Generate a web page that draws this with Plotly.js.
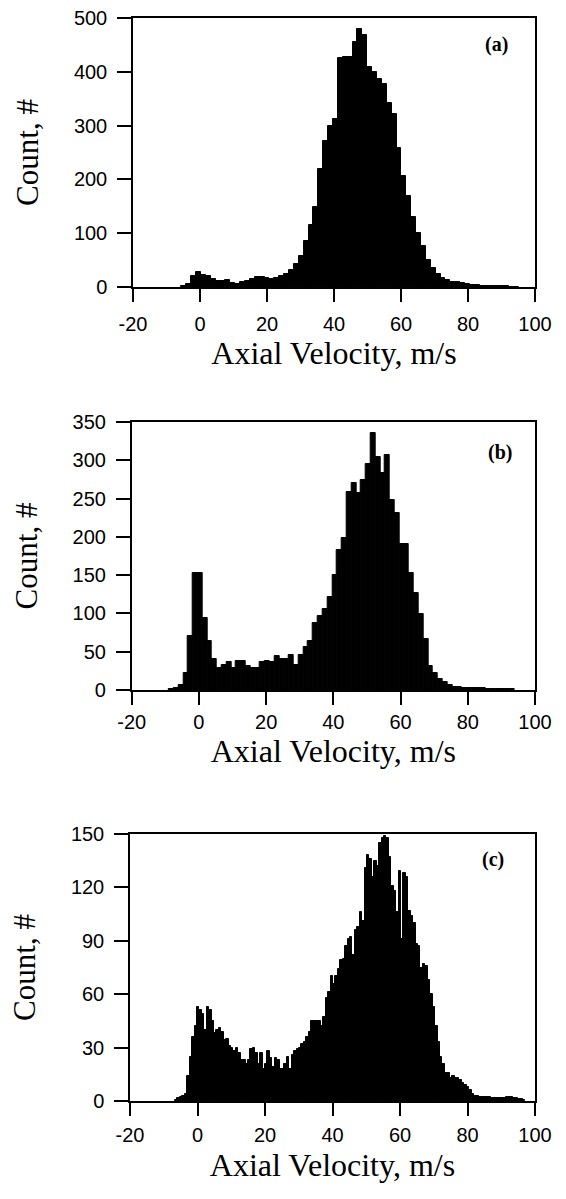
<!DOCTYPE html>
<html>
<head>
<meta charset="utf-8">
<script src="https://cdn.plot.ly/plotly-3.0.1.min.js"></script>
<style>
  html, body { margin: 0; padding: 0; background: #ffffff; }
  #chart { width: 566px; height: 1199px; }
</style>
</head>
<body>
<div id="chart"></div>
<script>
// ---- data ----
const velocityTicks = [-20, 0, 20, 40, 60, 80, 100];

// panel (a): bin centre of first bin and bin width (m/s)
const firstBinA = -4.83;
const binWidthA = 1.46;
const countsA = [1, 5, 20, 28, 23, 21, 14, 11, 11, 13, 8, 6, 10, 12, 15, 18, 18, 16, 15, 17,
  20, 25, 32, 42, 57, 85, 116, 148, 220, 272, 300, 312, 425, 428, 428, 455, 479, 469, 409, 400,
  386, 377, 342, 321, 258, 207, 170, 130, 100, 76, 50, 35, 24, 17, 13, 10, 9, 7, 5, 4,
  3, 2, 2, 1, 1, 1, 1, 0.5, 0.5];

// panel (b)
const firstBinB = -8.24;
const binWidthB = 1.43;
const countsB = [1, 3, 7, 22, 70, 153, 153, 94, 64, 41, 29, 33, 36, 29, 38, 38, 32, 29, 29, 36,
  38, 36, 45, 41, 41, 46, 33, 46, 56, 64, 87, 96, 106, 121, 150, 183, 198, 258, 270, 257,
  274, 295, 335, 304, 283, 307, 248, 231, 191, 191, 153, 127, 99, 66, 31, 22, 15, 11, 7, 4,
  4, 3, 3, 2, 2, 2, 1, 1, 1, 1, 1, 1];

// panel (c)
const firstBinC = -6.29;
const binWidthC = 0.72;
const countsC = [0.5, 1.5, 2.5, 3,
  4, 14, 25, 36, 42, 53, 51, 49, 40, 53, 51, 45, 38, 40, 41, 39, 34, 35, 31, 30,
  28, 30, 27, 23, 23, 21, 23, 29, 30, 27, 21, 27, 18, 21, 28, 24, 19, 24, 23, 18,
  18, 21, 25, 18, 26, 28, 29, 30, 32, 33, 36, 39, 45, 45, 45, 45, 42, 47, 58, 61,
  70, 66, 70, 74, 79, 80, 87, 91, 92,
  82, 96, 98, 106, 101, 131, 138, 136, 126, 135, 132, 145, 148, 149, 148, 137, 121, 118, 106, 129,
  91, 128, 126, 107, 104, 100, 88, 87, 75, 77, 76, 68, 60, 53, 42, 33, 25, 21, 16, 16,
  13, 14, 13, 13, 12, 10, 9, 8, 6, 4,
  3, 3, 2, 2, 2, 2, 2, 1.5, 1.5, 1.5, 1.5, 1.5, 1.5, 2, 2, 2, 1.5, 1.5, 1, 1, 0.5];

const panelLabels = ['(a)', '(b)', '(c)'];
const yTickValsA = [0, 100, 200, 300, 400, 500];
const yTickValsB = [0, 50, 100, 150, 200, 250, 300, 350];
const yTickValsC = [0, 30, 60, 90, 120, 150];
const xTitleText = 'Axial Velocity, m/s';
const yTitleText = 'Count, #';

// ---- figure ----
const W = 566, H = 1199;
const px = v => v / W;
const py = v => 1 - v / H;

function barTrace(counts, x0, dx, xa, ya) {
  return {
    type: 'bar', y: counts, x0: x0, dx: dx, xaxis: xa, yaxis: ya,
    marker: { color: '#000000', line: { color: '#000000', width: 1 } },
    hoverinfo: 'x+y', showlegend: false
  };
}

const data = [
  barTrace(countsA, firstBinA, binWidthA, 'x', 'y'),
  barTrace(countsB, firstBinB, binWidthB, 'x2', 'y2'),
  barTrace(countsC, firstBinC, binWidthC, 'x3', 'y3')
];

const tickFont = { family: 'Liberation Sans, Arial, sans-serif', size: 20, color: '#000000' };
const titleFont = { family: 'Liberation Serif, Times New Roman, serif', size: 32, color: '#000000' };
const yTitleFont = { family: 'Liberation Serif, Times New Roman, serif', size: 31, color: '#000000' };
const labelFont = { family: 'Liberation Serif, Times New Roman, serif', size: 20, color: '#000000' };

function xAxis(domain, anchor, labelStandoff, titleStandoff) {
  return {
    domain: domain, anchor: anchor, range: [-20, 100],
    tickmode: 'array', tickvals: velocityTicks, ticktext: velocityTicks.map(String),
    ticks: 'outside', ticklen: 13, tickwidth: 1.5, tickcolor: '#000000',
    showline: true, linecolor: '#000000', linewidth: 1.5, mirror: true,
    showgrid: false, zeroline: false,
    tickfont: tickFont, ticklabelstandoff: labelStandoff,
    title: { text: xTitleText, font: titleFont, standoff: titleStandoff }
  };
}
function yAxis(domain, anchor, maxV, tickVals) {
  return {
    domain: domain, anchor: anchor, range: [0, maxV],
    tickmode: 'array', tickvals: tickVals, ticktext: tickVals.map(String),
    ticks: 'outside', ticklen: 14, tickwidth: 1.5, tickcolor: '#000000',
    showline: true, linecolor: '#000000', linewidth: 1.5, mirror: true,
    showgrid: false, zeroline: false,
    tickfont: tickFont, ticklabelstandoff: 6,
    title: { text: yTitleText, font: yTitleFont, standoff: 26 }
  };
}

function panelLabel(xr, yr, x, y, txt) {
  return { xref: xr, yref: yr, x: x, y: y, text: '<b>' + txt + '</b>', showarrow: false,
    xanchor: 'center', yanchor: 'middle', font: labelFont };
}

const layout = {
  width: W, height: H,
  margin: { l: 0, r: 0, t: 0, b: 0, pad: 0 },
  paper_bgcolor: '#ffffff', plot_bgcolor: '#ffffff',
  bargap: 0, showlegend: false,
  xaxis: xAxis([px(133), px(535)], 'y', 5, 3),
  yaxis: yAxis([py(287), py(18)], 'x', 500, yTickValsA),
  xaxis2: xAxis([px(131.7), px(535)], 'y2', 0, 5),
  yaxis2: yAxis([py(690), py(422)], 'x2', 350, yTickValsB),
  xaxis3: xAxis([px(130), px(535)], 'y3', 2, 9),
  yaxis3: yAxis([py(1101), py(834)], 'x3', 150, yTickValsC),
  annotations: [
    panelLabel('x domain', 'y domain', 0.903, 0.903, panelLabels[0]),
    panelLabel('x2 domain', 'y2 domain', 0.913, 0.888, panelLabels[1]),
    panelLabel('x3 domain', 'y3 domain', 0.896, 0.906, panelLabels[2])
  ]
};

Plotly.newPlot('chart', data, layout, { displayModeBar: false, responsive: false });
</script>
</body>
</html>
